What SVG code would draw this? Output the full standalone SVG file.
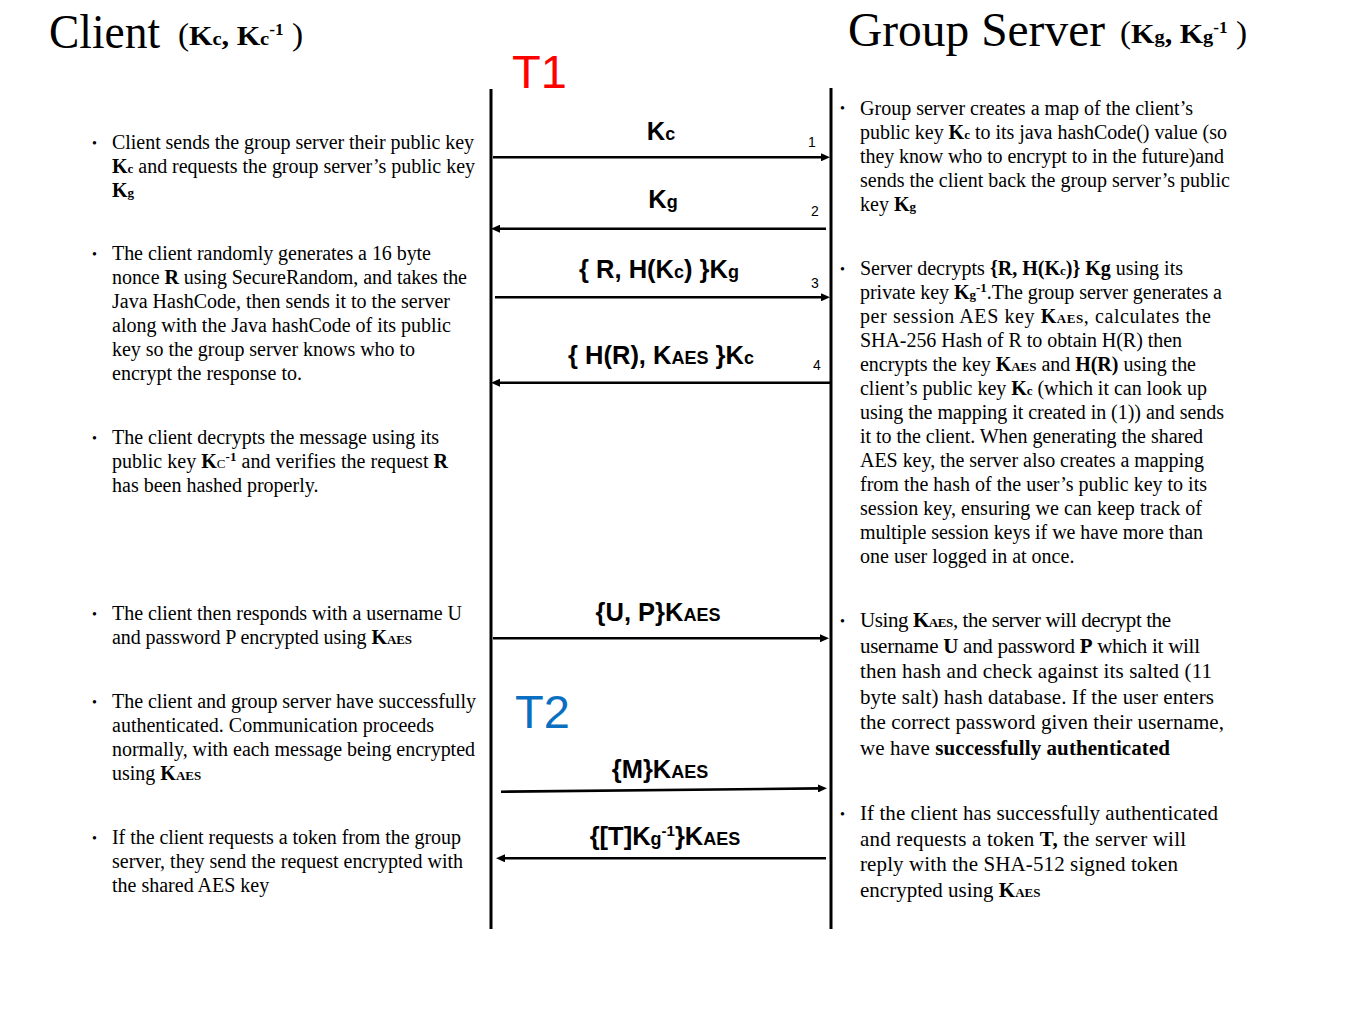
<svg xmlns="http://www.w3.org/2000/svg" width="1365" height="1024" viewBox="0 0 1365 1024">
<style>
.t{font-family:"Liberation Serif","Times New Roman",serif;font-size:20px;fill:#000}
.t21{font-size:21px}
.b{font-weight:bold}
.s{font-size:13px}
.bul{font-family:"Liberation Serif","Times New Roman",serif;font-size:14px;fill:#000}
.lbl{font-family:"Liberation Sans",Arial,sans-serif;font-weight:bold;font-size:25.5px;fill:#000;text-anchor:middle}
.ls{font-size:18px}
.num{font-family:"Liberation Sans",Arial,sans-serif;font-size:14px;fill:#000}
.life{stroke:#000;stroke-width:3;fill:none}
.msg{stroke:#000;stroke-width:2.6;fill:none;marker-end:url(#ah)}
.title{font-family:"Liberation Serif","Times New Roman",serif;font-size:48px;fill:#000}
</style>
<defs>
<marker id="ah" markerUnits="userSpaceOnUse" markerWidth="10" markerHeight="8" refX="3" refY="4" orient="auto">
<path d="M0,0 L9,4 L0,8 z" fill="#000"/>
</marker>
</defs>
<rect width="1365" height="1024" fill="#fff"/>

<g id="client-header">
<text class="title" x="49" y="48" textLength="111" lengthAdjust="spacingAndGlyphs">Client</text>
<text class="t" x="178" y="45" style="font-size:31px" textLength="125" lengthAdjust="spacingAndGlyphs">(<tspan class="b" style="font-size:28px">K</tspan><tspan class="b" style="font-size:19px">c</tspan><tspan class="b" style="font-size:28px">, K</tspan><tspan class="b" style="font-size:19px">c</tspan><tspan class="b" style="font-size:16px" dy="-10">-1</tspan><tspan dy="10"> )</tspan></text>
</g>
<g id="server-header">
<text class="title" x="848" y="46" textLength="257" lengthAdjust="spacingAndGlyphs">Group Server</text>
<text class="t" x="1120" y="43" style="font-size:31px" textLength="127" lengthAdjust="spacingAndGlyphs">(<tspan class="b" style="font-size:28px">K</tspan><tspan class="b" style="font-size:19px">g</tspan><tspan class="b" style="font-size:28px">, K</tspan><tspan class="b" style="font-size:19px">g</tspan><tspan class="b" style="font-size:16px" dy="-10">-1</tspan><tspan dy="10"> )</tspan></text>
</g>

<g id="phase-labels">
<text x="512" y="88" style="font-family:'Liberation Sans',Arial,sans-serif;font-size:47px;fill:#ff0000">T1</text>
<text x="515" y="728" style="font-family:'Liberation Sans',Arial,sans-serif;font-size:47px;fill:#0b6fc1">T2</text>
</g>

<g id="lifelines">
<line class="life" x1="491" y1="89" x2="491" y2="929"/>
<line class="life" x1="831" y1="88" x2="831" y2="929"/>
</g>

<g id="connectors">
<line class="msg" x1="493" y1="157.3" x2="824" y2="157.3"/>
<line class="msg" x1="826" y1="228.7" x2="497" y2="228.7"/>
<line class="msg" x1="495" y1="297.3" x2="824" y2="297.3"/>
<line class="msg" x1="830" y1="382.7" x2="497" y2="382.7"/>
<line class="msg" x1="493" y1="638.3" x2="823" y2="638.3"/>
<line class="msg" x1="501" y1="791.7" x2="821" y2="788.4"/>
<line class="msg" x1="826" y1="858.3" x2="502" y2="858.3"/>
</g>

<g id="message-labels">
<text class="lbl" x="661" y="140">K<tspan class="ls">c</tspan></text>
<text class="num" x="808" y="147">1</text>
<text class="lbl" x="663" y="208">K<tspan class="ls">g</tspan></text>
<text class="num" x="811" y="216">2</text>
<text class="lbl" x="659" y="278">{ R, H(K<tspan class="ls">c</tspan>) }K<tspan class="ls">g</tspan></text>
<text class="num" x="811" y="288">3</text>
<text class="lbl" x="661" y="364">{ H(R), K<tspan class="ls">AES</tspan> }K<tspan class="ls">c</tspan></text>
<text class="num" x="813" y="370">4</text>
<text class="lbl" x="658" y="621">{U, P}K<tspan class="ls">AES</tspan></text>
<text class="lbl" x="660" y="778">{M}K<tspan class="ls">AES</tspan></text>
<text class="lbl" x="665" y="845">{[T]K<tspan class="ls">g</tspan><tspan class="ls" style="font-size:15px" dy="-9">-1</tspan><tspan dy="9">}K</tspan><tspan class="ls">AES</tspan></text>
</g>

<g id="client-step1">
<text class="bul" x="92" y="148">•</text>
<text class="t" x="112" y="149" textLength="362">Client sends the group server their public key</text>
<text class="t" x="112" y="173" textLength="363"><tspan class="b">K<tspan class="s">c</tspan></tspan> and requests the group server’s public key</text>
<text class="t" x="112" y="197"><tspan class="b">K<tspan class="s">g</tspan></tspan></text>
</g>
<g id="client-step2">
<text class="bul" x="92" y="259">•</text>
<text class="t" x="112" y="260" textLength="319">The client randomly generates a 16 byte</text>
<text class="t" x="112" y="284" textLength="355">nonce <tspan class="b">R</tspan> using SecureRandom, and takes the</text>
<text class="t" x="112" y="308" textLength="338">Java HashCode, then sends it to the server</text>
<text class="t" x="112" y="332" textLength="339">along with the Java hashCode of its public</text>
<text class="t" x="112" y="356" textLength="303">key so the group server knows who to</text>
<text class="t" x="112" y="380">encrypt the response to.</text>
</g>
<g id="client-step3">
<text class="bul" x="92" y="443">•</text>
<text class="t" x="112" y="444" textLength="327">The client decrypts the message using its</text>
<text class="t" x="112" y="468" textLength="336">public key <tspan class="b">K</tspan><tspan class="s">C</tspan><tspan class="b s" dy="-7">-1</tspan><tspan dy="7">  and verifies the request </tspan><tspan class="b">R</tspan></text>
<text class="t" x="112" y="492">has been hashed properly.</text>
</g>
<g id="client-step4">
<text class="bul" x="92" y="619">•</text>
<text class="t" x="112" y="620" textLength="350">The client then responds with a username U</text>
<text class="t" x="112" y="644" textLength="300">and password P encrypted using <tspan class="b">K<tspan class="s">AES</tspan></tspan></text>
</g>
<g id="client-step5">
<text class="bul" x="92" y="707">•</text>
<text class="t" x="112" y="708" textLength="364">The client and group server have successfully</text>
<text class="t" x="112" y="732" textLength="322">authenticated.  Communication  proceeds</text>
<text class="t" x="112" y="756" textLength="363">normally, with each message being encrypted</text>
<text class="t" x="112" y="780">using <tspan class="b">K<tspan class="s">AES</tspan></tspan></text>
</g>
<g id="client-step6">
<text class="bul" x="92" y="843">•</text>
<text class="t" x="112" y="844" textLength="349">If the client requests a token from the group</text>
<text class="t" x="112" y="868" textLength="351">server, they send the request encrypted with</text>
<text class="t" x="112" y="892">the shared AES key</text>
</g>

<g id="server-step1">
<text class="bul" x="840" y="113">•</text>
<text class="t" x="860" y="114.5" textLength="333">Group server creates a map of the client’s</text>
<text class="t" x="860" y="138.5" textLength="367">public key <tspan class="b">K<tspan class="s">c</tspan></tspan> to its java hashCode() value (so</text>
<text class="t" x="860" y="162.5" textLength="364">they know who to encrypt to in the future)and</text>
<text class="t" x="860" y="186.5" textLength="370">sends the client back the group server’s public</text>
<text class="t" x="860" y="210.5">key <tspan class="b">K<tspan class="s">g</tspan></tspan></text>
</g>
<g id="server-step2">
<text class="bul" x="840" y="274">•</text>
<text class="t" x="860" y="275" textLength="323">Server decrypts <tspan class="b">{R, H(K<tspan class="s">c</tspan>)}  Kg</tspan> using its</text>
<text class="t" x="860" y="299" textLength="362">private key <tspan class="b">K<tspan class="s">g</tspan></tspan><tspan class="b s" dy="-7">-1</tspan><tspan dy="7">.The group server generates a</tspan></text>
<text class="t" x="860" y="323" textLength="351">per session AES key <tspan class="b">K<tspan class="s">AES</tspan></tspan>,  calculates the</text>
<text class="t" x="860" y="347" textLength="322">SHA-256 Hash of R to obtain H(R) then</text>
<text class="t" x="860" y="371" textLength="336">encrypts the key <tspan class="b">K<tspan class="s">AES</tspan></tspan> and <tspan class="b">H(R)</tspan> using the</text>
<text class="t" x="860" y="395" textLength="347">client’s public key <tspan class="b">K<tspan class="s">c</tspan></tspan> (which it can look up</text>
<text class="t" x="860" y="419" textLength="364">using the mapping it created in (1)) and sends</text>
<text class="t" x="860" y="443" textLength="343">it to the client. When generating the shared</text>
<text class="t" x="860" y="467" textLength="344">AES key, the server also creates a mapping</text>
<text class="t" x="860" y="491" textLength="347">from the hash of the user’s public key to its</text>
<text class="t" x="860" y="515" textLength="342">session key, ensuring we can keep track of</text>
<text class="t" x="860" y="539" textLength="343">multiple session keys if we have more than</text>
<text class="t" x="860" y="563">one user logged in at once.</text>
</g>
<g id="server-step3">
<text class="bul" x="840" y="626">•</text>
<text class="t t21" x="860" y="627" textLength="311">Using <tspan class="b">K<tspan class="s">AES</tspan></tspan>,  the server will decrypt the</text>
<text class="t t21" x="860" y="652.5" textLength="340">username <tspan class="b">U</tspan> and password <tspan class="b">P</tspan> which it will</text>
<text class="t t21" x="860" y="678" textLength="352">then hash and check against its salted (11</text>
<text class="t t21" x="860" y="703.5" textLength="354">byte salt) hash database.  If the user enters</text>
<text class="t t21" x="860" y="729" textLength="364">the correct password given their username,</text>
<text class="t t21" x="860" y="755" textLength="310">we have <tspan class="b">successfully  authenticated</tspan></text>
</g>
<g id="server-step4">
<text class="bul" x="840" y="819">•</text>
<text class="t t21" x="860" y="820" textLength="358">If the client has successfully authenticated</text>
<text class="t t21" x="860" y="845.5" textLength="326">and requests a token <tspan class="b">T,</tspan> the server will</text>
<text class="t t21" x="860" y="871" textLength="318">reply with the SHA-512 signed token</text>
<text class="t t21" x="860" y="897">encrypted  using <tspan class="b">K<tspan class="s">AES</tspan></tspan></text>
</g>
</svg>
